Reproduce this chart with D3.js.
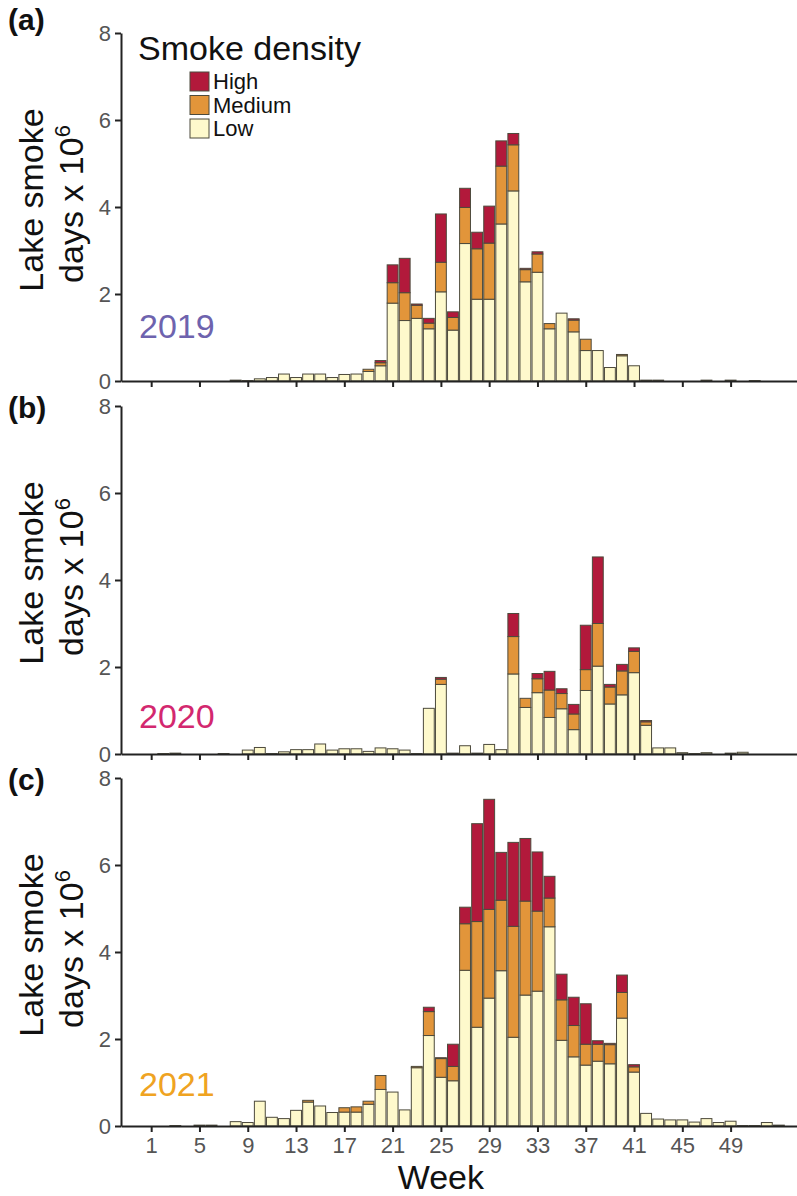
<!DOCTYPE html>
<html>
<head>
<meta charset="utf-8">
<script src="https://cdn.jsdelivr.net/npm/d3@7"></script>
<style>
	body { margin: 0; background: #fff; }
	text { font-family: "Liberation Sans", Arial, Helvetica, sans-serif; }
</style>
</head>
<body>
<div id="vis-proper"></div>
<script>
// weeks 1..53
const weeks = d3.range(1, 54);
const weekTicks = [1, 5, 9, 13, 17, 21, 25, 29, 33, 37, 41, 45, 49];
const yTicks = [0, 2, 4, 6, 8];
const densityKeys = ["low", "medium", "high"];
const densityLabels = ["High", "Medium", "Low"];
const years = ["2019", "2020", "2021"];
const panelLabels = ["(a)", "(b)", "(c)"];

// 2019 (values x 10^6 lake smoke days)
const low2019 = [0,0,0,0,0,0,0,0.02,0.01,0.05,0.08,0.16,0.08,0.16,0.16,0.08,0.15,0.16,0.22,0.35,
	1.79,1.39,1.44,1.20,2.05,1.17,3.16,1.88,1.88,3.61,4.37,2.28,2.50,1.20,1.56,1.13,0.70,0.70,0.31,0.58,
	0.35,0.02,0.02,0,0,0,0.02,0,0.02,0,0.01,0,0];
const med2019 = [0,0,0,0,0,0,0,0,0,0,0,0,0,0,0,0,0,0,0.05,0.07,
	0.47,0.64,0.30,0.13,0.68,0.29,0.83,1.16,1.29,1.33,1.06,0.28,0.42,0.12,0,0.27,0.26,0,0,0.03,
	0,0,0,0,0,0,0,0,0,0,0,0,0];
const high2019 = [0,0,0,0,0,0,0,0,0,0,0,0,0,0,0,0,0,0,0,0.05,
	0.41,0.79,0.03,0.11,1.11,0.13,0.44,0.38,0.85,0.58,0.26,0.03,0.05,0,0,0.03,0,0,0,0,
	0,0,0,0,0,0,0,0,0,0,0,0,0];

// 2020
const low2020 = [0,0.01,0.02,0,0,0,0.01,0,0.09,0.15,0.01,0.05,0.10,0.10,0.23,0.09,0.12,0.12,0.06,0.14,
	0.12,0.09,0.01,1.05,1.60,0.02,0.19,0.02,0.22,0.10,1.84,1.07,1.41,0.84,1.04,0.56,1.46,2.02,1.15,1.36,
	1.87,0.66,0.14,0.14,0.03,0.01,0.03,0,0.02,0.04,0,0,0];
const med2020 = [0,0,0,0,0,0,0,0,0,0,0,0,0,0,0,0,0,0,0,0,
	0,0,0,0,0.12,0,0,0,0,0,0.86,0.21,0.32,0.63,0.35,0.36,0.48,0.98,0.39,0.55,
	0.49,0.08,0,0,0,0,0,0,0,0,0,0,0];
const high2020 = [0,0,0,0,0,0,0,0,0,0,0,0,0,0,0,0,0,0,0,0,
	0,0,0,0,0.04,0,0,0,0,0,0.53,0,0.12,0.43,0.11,0.22,1.02,1.53,0.06,0.15,
	0.08,0.03,0,0,0,0,0,0,0,0,0,0,0];

// 2021
const low2021 = [0,0,0.01,0,0.02,0.02,0,0.10,0.08,0.57,0.20,0.17,0.36,0.55,0.46,0.31,0.32,0.32,0.50,0.84,
	0.78,0.37,1.34,2.08,1.12,1.04,3.58,2.27,2.94,3.57,2.04,3.01,3.10,4.58,1.97,1.59,1.40,1.49,1.43,2.48,
	1.24,0.29,0.16,0.14,0.14,0.09,0.17,0.08,0.11,0.01,0.01,0.08,0.02];
const med2021 = [0,0,0,0,0,0,0,0,0,0,0,0,0,0.04,0,0,0.10,0.12,0.07,0.32,
	0,0,0.03,0.55,0.43,0.33,1.07,2.43,2.04,1.62,2.55,2.16,1.84,0.66,0.93,0.72,0.48,0.39,0.44,0.59,
	0.12,0,0,0,0,0,0,0,0,0,0,0,0];
const high2021 = [0,0,0,0,0,0,0,0,0,0,0,0,0,0,0,0,0,0,0,0,
	0,0,0,0.10,0.02,0.51,0.38,2.25,2.53,1.10,1.93,1.44,1.36,0.50,0.59,0.65,0.93,0.08,0.03,0.40,
	0.05,0,0,0,0,0,0,0,0,0,0,0,0];

const lowSeries = [low2019, low2020, low2021];
const medSeries = [med2019, med2020, med2021];
const highSeries = [high2019, high2020, high2021];

const main = () => {
	draw();
};

const draw = () => {
	const W = 797;
	const H = 1196;
	const svg = d3.select("#vis-proper").append("svg")
		.attr("width", W)
		.attr("height", H);

	const colors = { low: "#FEF9CC", medium: "#E2953A", high: "#B2193B" };
	const yearColors = ["#6E63AE", "#D3286F", "#EFA322"];
	const yearLabelY = [338, 728, 1096];
	const panelLabelY = [30, 418, 790];
	const baseY = [381, 754, 1126];
	const panelH = 348;

	const x = d3.scaleLinear().domain([-1.5, 54.5]).range([121, W]);
	const step = x(1) - x(0);
	const barW = step - 1.2;

	const stack = d3.stack().keys(densityKeys);

	years.forEach((yr, p) => {
		const y = d3.scaleLinear().domain([0, 8]).range([baseY[p], baseY[p] - panelH]);
		const rows = weeks.map((w, i) => ({
			week: w,
			low: lowSeries[p][i],
			medium: medSeries[p][i],
			high: highSeries[p][i]
		}));
		const layers = stack(rows);

		const g = svg.append("g").attr("class", "panel");

		g.selectAll(".layer")
			.data(layers)
			.join("g")
			.attr("class", "layer")
			.attr("fill", d => colors[d.key])
			.selectAll("rect")
			.data(d => d.filter(v => v[1] - v[0] > 0))
			.join("rect")
			.attr("x", d => x(d.data.week) - barW / 2)
			.attr("y", d => y(d[1]))
			.attr("width", barW)
			.attr("height", d => Math.max(0.8, y(d[0]) - y(d[1])))
			.attr("stroke", "#4d4a3c")
			.attr("stroke-width", 1);

		// y axis
		const yAxis = g.append("g")
			.attr("transform", "translate(121,0)")
			.call(d3.axisLeft(y).tickValues(yTicks).tickSize(6).tickSizeOuter(0).tickPadding(4));
		yAxis.select(".domain").attr("stroke", "#222").attr("stroke-width", 2);
		yAxis.selectAll(".tick line").attr("stroke", "#222").attr("stroke-width", 2);
		yAxis.selectAll(".tick text")
			.attr("fill", "#555")
			.style("font-size", "22px")
			.style("font-family", "'Liberation Sans', Arial, sans-serif");

		// x axis
		const xAxis = g.append("g")
			.attr("transform", `translate(0,${baseY[p]})`)
			.call(d3.axisBottom(x).tickValues(weekTicks).tickSize(6).tickSizeOuter(0).tickPadding(5));
		xAxis.select(".domain").attr("stroke", "#222").attr("stroke-width", 2);
		xAxis.selectAll(".tick line").attr("stroke", "#222").attr("stroke-width", 2);
		xAxis.selectAll(".tick text")
			.attr("fill", "#555")
			.style("font-size", "22px")
			.style("font-family", "'Liberation Sans', Arial, sans-serif")
			.style("display", p === 2 ? null : "none");

		// y title
		const cy = baseY[p] - 181;
		g.append("text")
			.attr("transform", `translate(43,${cy}) rotate(-90)`)
			.attr("text-anchor", "middle")
			.attr("fill", "#111")
			.style("font-size", "34px")
			.text("Lake smoke");
		const t2 = g.append("text")
			.attr("transform", `translate(83,${cy + 4}) rotate(-90)`)
			.attr("text-anchor", "middle")
			.attr("fill", "#111")
			.style("font-size", "34px");
		t2.append("tspan").text("days x 10");
		t2.append("tspan")
			.attr("dy", -13)
			.style("font-size", "22px")
			.text("6");

		// year label
		g.append("text")
			.attr("x", 139)
			.attr("y", yearLabelY[p])
			.attr("fill", yearColors[p])
			.style("font-size", "34px")
			.text(yr);

		// panel label
		g.append("text")
			.attr("x", 8)
			.attr("y", panelLabelY[p])
			.attr("fill", "#111")
			.style("font-size", "30px")
			.style("font-weight", "bold")
			.text(panelLabels[p]);
	});

	// x title
	svg.append("text")
		.attr("x", x(25))
		.attr("y", 1189)
		.attr("text-anchor", "middle")
		.attr("fill", "#111")
		.style("font-size", "34px")
		.text("Week");

	// legend
	const legend = svg.append("g").attr("class", "legend");
	legend.append("text")
		.attr("x", 138)
		.attr("y", 60)
		.attr("fill", "#111")
		.style("font-size", "34px")
		.text("Smoke density");
	const legendKeys = ["high", "medium", "low"];
	legendKeys.forEach((k, i) => {
		legend.append("rect")
			.attr("x", 190)
			.attr("y", 72 + i * 23.5)
			.attr("width", 19)
			.attr("height", 19)
			.attr("fill", colors[k])
			.attr("stroke", "#4d4a3c")
			.attr("stroke-width", 1);
		legend.append("text")
			.attr("x", 213)
			.attr("y", 72 + i * 23.5 + 17)
			.attr("fill", "#111")
			.style("font-size", "22px")
			.text(densityLabels[i]);
	});
};

main();
</script>
</body>
</html>
